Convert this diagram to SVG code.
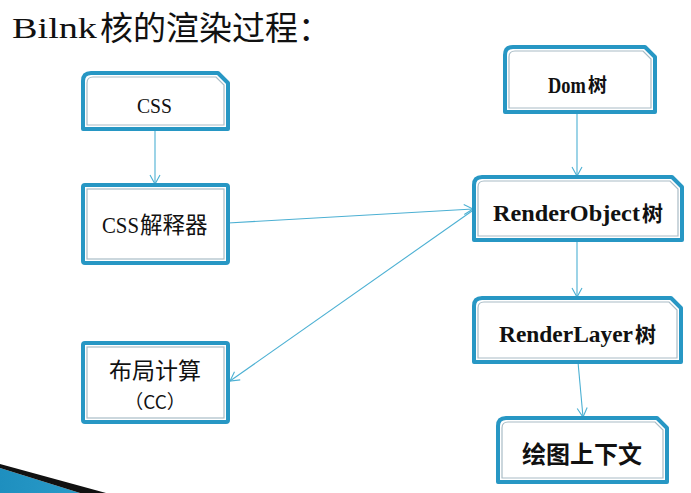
<svg xmlns="http://www.w3.org/2000/svg" width="691" height="493" viewBox="0 0 691 493">
<style>
.outer{fill:#ffffff;stroke:#2797c4;stroke-width:4;stroke-linejoin:round}
.inner{fill:none;stroke:#a9bcc6;stroke-width:1.2}
.conn{fill:none;stroke:#4cb0d3;stroke-width:1.1}
.lat{font-family:"Liberation Serif","Noto Sans CJK SC",serif;fill:#111}
.cjk{font-family:"Noto Sans CJK SC",sans-serif;fill:#111}
</style>
<defs>
<marker id="arr" markerWidth="12" markerHeight="12" refX="10" refY="6" orient="auto" markerUnits="userSpaceOnUse">
<path d="M1,1 L10,6 L1,11" fill="none" stroke="#4cb0d3" stroke-width="1.1"/>
</marker>
<linearGradient id="sw" x1="0" y1="0" x2="1" y2="0">
<stop offset="0" stop-color="#1e8fbf"/>
<stop offset="1" stop-color="#2a9bc8"/>
</linearGradient>
</defs>
<rect width="691" height="493" fill="#ffffff"/>
<g id="title">
<text class="lat" x="12" y="38" font-size="30" textLength="85" lengthAdjust="spacingAndGlyphs">Bilnk</text>
<text class="cjk" x="100" y="40" font-size="33">核的渲染过程：</text>
</g>

<g id="connectors">
<line class="conn" x1="155" y1="129" x2="155" y2="184" marker-end="url(#arr)"/>
<line class="conn" x1="577" y1="112" x2="577" y2="176" marker-end="url(#arr)"/>
<line class="conn" x1="577" y1="240" x2="577" y2="297" marker-end="url(#arr)"/>
<line class="conn" x1="578" y1="362" x2="583" y2="417" marker-end="url(#arr)"/>
<line class="conn" x1="228" y1="223" x2="473" y2="209" marker-end="url(#arr)"/>
<line class="conn" x1="472" y1="211" x2="230" y2="381" marker-end="url(#arr)"/>
</g>

<g id="css">
<path class="outer" d="M91,73 L218,73 L228,83 L228,129 L83,129 L83,81 Q83,73 91,73 Z"/>
<path class="inner" d="M93,77 L216,77 L224,85 L224,125 L87,125 L87,83 Q87,77 93,77 Z"/>
<text class="lat" x="137" y="113" font-size="22" textLength="35" lengthAdjust="spacingAndGlyphs">CSS</text>
</g>

<g id="css-parser">
<rect class="outer" x="83" y="185" width="145" height="78" rx="2"/>
<rect class="inner" x="87" y="189" width="137" height="70"/>
<text class="lat" x="102" y="233" font-size="23" textLength="37" lengthAdjust="spacingAndGlyphs">CSS</text>
<text class="cjk" x="140" y="233" font-size="22.5">解释器</text>
</g>

<g id="layout">
<rect class="outer" x="83" y="343" width="145" height="79" rx="2"/>
<rect class="inner" x="87" y="347" width="137" height="71"/>
<text class="cjk" x="155" y="379" font-size="23" text-anchor="middle">布局计算</text>
<text class="cjk" x="155" y="409" font-size="19" text-anchor="middle">（CC）</text>
</g>

<g id="dom">
<path class="outer" d="M513,47 L645,47 L655,57 L655,112 L505,112 L505,55 Q505,47 513,47 Z"/>
<path class="inner" d="M515,51 L643,51 L651,59 L651,108 L509,108 L509,57 Q509,51 515,51 Z"/>
<text class="lat" transform="translate(548,93) scale(0.8,1)" font-size="23" font-weight="bold">Dom</text>
<text class="cjk" x="588" y="92" font-size="19" font-weight="bold">树</text>
</g>

<g id="renderobject">
<path class="outer" d="M482,177 L672,177 L682,187 L682,240 L474,240 L474,185 Q474,177 482,177 Z"/>
<path class="inner" d="M484,181 L670,181 L678,189 L678,236 L478,236 L478,187 Q478,181 484,181 Z"/>
<text class="lat" x="493" y="221" font-size="23" font-weight="bold" textLength="147" lengthAdjust="spacingAndGlyphs">RenderObject</text>
<text class="cjk" x="642" y="221" font-size="21" font-weight="bold">树</text>
</g>

<g id="renderlayer">
<path class="outer" d="M482,298 L671,298 L681,308 L681,362 L474,362 L474,306 Q474,298 482,298 Z"/>
<path class="inner" d="M484,302 L669,302 L677,310 L677,358 L478,358 L478,308 Q478,302 484,302 Z"/>
<text class="lat" x="499" y="342" font-size="23" font-weight="bold" textLength="134" lengthAdjust="spacingAndGlyphs">RenderLayer</text>
<text class="cjk" x="635" y="342" font-size="21" font-weight="bold">树</text>
</g>

<g id="context">
<path class="outer" d="M506,418 L657,418 L667,428 L667,482 L498,482 L498,426 Q498,418 506,418 Z"/>
<path class="inner" d="M508,422 L655,422 L663,430 L663,478 L502,478 L502,428 Q502,422 508,422 Z"/>
<text class="cjk" x="582" y="463" font-size="24" font-weight="bold" text-anchor="middle">绘图上下文</text>
</g>

<polygon points="0,468 80,493 0,493" fill="url(#sw)"/>
<polygon points="0,464 106,493 80,493 0,468" fill="#111"/>
</svg>
